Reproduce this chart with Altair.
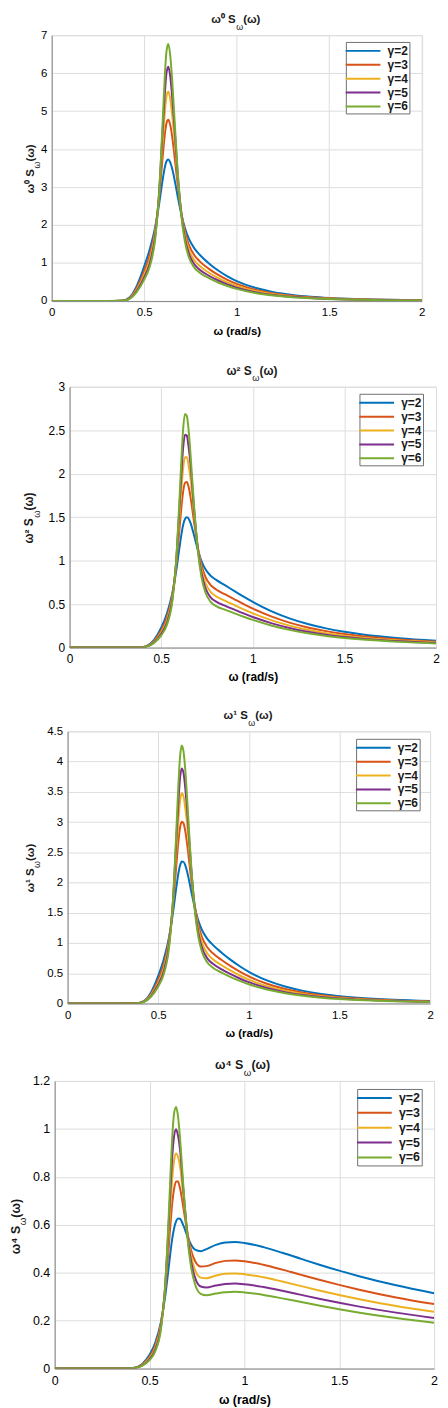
import altair as alt
import pandas as pd

# ---------------- data ----------------
OMEGA = [0.00, 0.30, 0.38, 0.42, 0.46, 0.50, 0.53, 0.56, 0.58, 0.60, 0.61, 0.62,
         0.63, 0.64, 0.65, 0.66, 0.68, 0.70, 0.72, 0.74, 0.77, 0.80, 0.85, 0.90,
         0.95, 1.00, 1.10, 1.20, 1.30, 1.40, 1.50, 1.60, 1.80, 2.00]

GAMMAS = ["γ=2", "γ=3", "γ=4", "γ=5", "γ=6"]
COLORS = ["#0072BD", "#D95319", "#EDB120", "#7E2F8E", "#77AC30"]
X_TICKS = [0, 0.5, 1, 1.5, 2]

# panel 1 : omega^0 S
M0_G2 = [0, 0, 0.0070, 0.0931, 0.3985, 0.9112, 1.3643, 1.9621, 2.5337, 3.1985, 3.4848, 3.6729, 3.7236, 3.6588, 3.5077, 3.2928, 2.7789, 2.2951, 1.9197, 1.6534, 1.3925, 1.2158, 0.9882, 0.8011, 0.6477, 0.5239, 0.3460, 0.2329, 0.1601, 0.1125, 0.0807, 0.0589, 0.0331, 0.0197]
M0_G3 = [0, 0, 0.0060, 0.0796, 0.3406, 0.7833, 1.2056, 1.8934, 2.7033, 3.8006, 4.3194, 4.6749, 4.7730, 4.6506, 4.3695, 3.9799, 3.1021, 2.3521, 1.8297, 1.4971, 1.2112, 1.0433, 0.8447, 0.6847, 0.5536, 0.4478, 0.2957, 0.1991, 0.1369, 0.0962, 0.0689, 0.0504, 0.0283, 0.0168]
M0_G4 = [0, 0, 0.0053, 0.0700, 0.2995, 0.6916, 1.0856, 1.8148, 2.7824, 4.2228, 4.8760, 5.3770, 5.5180, 5.3440, 4.9500, 4.4757, 3.2973, 2.3531, 1.7383, 1.3716, 1.0786, 0.9202, 0.7430, 0.6021, 0.4868, 0.3938, 0.2601, 0.1751, 0.1204, 0.0846, 0.0606, 0.0443, 0.0249, 0.0148]
M0_G5 = [0, 0, 0.0047, 0.0625, 0.2677, 0.6200, 0.9881, 1.7337, 2.8090, 4.5245, 5.3520, 5.9890, 6.1690, 5.9480, 5.4480, 4.8404, 3.4130, 2.3236, 1.6494, 1.2652, 0.9732, 0.8241, 0.6640, 0.5381, 0.4350, 0.3519, 0.2324, 0.1564, 0.1076, 0.0756, 0.0542, 0.0396, 0.0222, 0.0132]
M0_G6 = [0, 0, 0.0043, 0.0564, 0.2416, 0.5612, 0.9054, 1.6528, 2.8017, 4.7369, 5.7858, 6.5522, 6.7702, 6.5029, 5.9027, 5.1068, 3.4740, 2.2760, 1.5637, 1.1721, 0.8855, 0.7453, 0.5995, 0.4857, 0.3927, 0.3177, 0.2098, 0.1412, 0.0971, 0.0682, 0.0489, 0.0357, 0.0201, 0.0119]

# panel 2 : omega^2 S
M2_G2 = [0, 0, 0.0010, 0.0164, 0.0843, 0.2278, 0.3832, 0.6153, 0.8523, 1.1515, 1.2967, 1.4119, 1.4779, 1.4986, 1.4820, 1.4343, 1.2850, 1.1246, 0.9952, 0.9054, 0.8256, 0.7781, 0.7140, 0.6489, 0.5845, 0.5239, 0.4187, 0.3354, 0.2706, 0.2205, 0.1816, 0.1508, 0.1072, 0.0786]
M2_G3 = [0, 0, 0.0009, 0.0140, 0.0721, 0.1958, 0.3387, 0.5938, 0.9094, 1.3682, 1.6072, 1.7970, 1.8944, 1.9049, 1.8461, 1.7336, 1.4344, 1.1525, 0.9485, 0.8198, 0.7181, 0.6677, 0.6103, 0.5546, 0.4996, 0.4478, 0.3578, 0.2867, 0.2314, 0.1886, 0.1550, 0.1290, 0.0917, 0.0672]
M2_G4 = [0, 0, 0.0008, 0.0123, 0.0634, 0.1729, 0.3049, 0.5691, 0.9360, 1.5202, 1.8143, 2.0671, 2.1900, 2.1890, 2.0913, 1.9496, 1.5247, 1.1530, 0.9011, 0.7511, 0.6395, 0.5889, 0.5368, 0.4877, 0.4393, 0.3938, 0.3147, 0.2521, 0.2035, 0.1658, 0.1364, 0.1134, 0.0807, 0.0592]
M2_G5 = [0, 0, 0.0007, 0.0110, 0.0566, 0.1550, 0.2776, 0.5437, 0.9449, 1.6288, 1.9917, 2.3022, 2.4485, 2.4362, 2.3020, 2.1085, 1.5782, 1.1386, 0.8551, 0.6928, 0.5770, 0.5274, 0.4797, 0.4359, 0.3926, 0.3519, 0.2812, 0.2252, 0.1818, 0.1482, 0.1220, 0.1014, 0.0719, 0.0528]
M2_G6 = [0, 0, 0.0006, 0.0099, 0.0511, 0.1403, 0.2543, 0.5183, 0.9425, 1.7053, 2.1529, 2.5187, 2.6871, 2.6636, 2.4939, 2.2245, 1.6064, 1.1152, 0.8106, 0.6418, 0.5250, 0.4770, 0.4331, 0.3934, 0.3544, 0.3177, 0.2539, 0.2033, 0.1641, 0.1337, 0.1100, 0.0914, 0.0651, 0.0476]

# panel 3 : omega^1 S
M1_G2 = [0, 0, 0.0027, 0.0391, 0.1833, 0.4556, 0.7231, 1.0988, 1.4695, 1.9191, 2.1257, 2.2772, 2.3459, 2.3416, 2.2800, 2.1732, 1.8897, 1.6066, 1.3822, 1.2235, 1.0722, 0.9726, 0.8400, 0.7210, 0.6153, 0.5239, 0.3806, 0.2795, 0.2081, 0.1575, 0.1211, 0.0942, 0.0596, 0.0393]
M1_G3 = [0, 0, 0.0023, 0.0334, 0.1567, 0.3917, 0.6390, 1.0603, 1.5679, 2.2804, 2.6348, 2.8984, 3.0070, 2.9764, 2.8402, 2.6267, 2.1094, 1.6465, 1.3174, 1.1079, 0.9326, 0.8346, 0.7180, 0.6162, 0.5259, 0.4478, 0.3253, 0.2389, 0.1780, 0.1347, 0.1034, 0.0806, 0.0509, 0.0336]
M1_G4 = [0, 0, 0.0020, 0.0294, 0.1378, 0.3458, 0.5754, 1.0163, 1.6138, 2.5337, 2.9744, 3.3341, 3.4761, 3.4203, 3.2174, 2.9540, 2.2422, 1.6472, 1.2516, 1.0150, 0.8305, 0.7362, 0.6316, 0.5419, 0.4625, 0.3938, 0.2861, 0.2101, 0.1565, 0.1184, 0.0909, 0.0709, 0.0448, 0.0296]
M1_G5 = [0, 0, 0.0018, 0.0263, 0.1231, 0.3100, 0.5237, 0.9709, 1.6292, 2.7147, 3.2650, 3.7133, 3.8865, 3.8067, 3.5416, 3.1947, 2.3208, 1.6265, 1.1876, 0.9362, 0.7494, 0.6593, 0.5644, 0.4843, 0.4133, 0.3519, 0.2556, 0.1877, 0.1399, 0.1058, 0.0813, 0.0634, 0.0400, 0.0264]
M1_G6 = [0, 0, 0.0016, 0.0237, 0.1111, 0.2806, 0.4799, 0.9256, 1.6250, 2.8421, 3.5293, 4.0624, 4.2652, 4.1619, 3.8368, 3.3705, 2.3623, 1.5932, 1.1259, 0.8674, 0.6818, 0.5962, 0.5096, 0.4371, 0.3731, 0.3177, 0.2308, 0.1694, 0.1262, 0.0955, 0.0734, 0.0571, 0.0362, 0.0238]

# panel 4 : omega^4 S
M4_G2 = [0, 0, 0.0001, 0.0029, 0.0178, 0.0570, 0.1077, 0.1930, 0.2867, 0.4145, 0.4825, 0.5427, 0.5866, 0.6138, 0.6261, 0.6248, 0.5942, 0.5511, 0.5159, 0.4958, 0.4895, 0.4980, 0.5158, 0.5256, 0.5276, 0.5239, 0.5066, 0.4829, 0.4574, 0.4322, 0.4084, 0.3862, 0.3472, 0.3144]
M4_G3 = [0, 0, 0.0001, 0.0025, 0.0153, 0.0490, 0.0951, 0.1862, 0.3059, 0.4926, 0.5981, 0.6908, 0.7519, 0.7802, 0.7800, 0.7552, 0.6633, 0.5647, 0.4917, 0.4489, 0.4258, 0.4273, 0.4409, 0.4492, 0.4509, 0.4478, 0.4330, 0.4128, 0.3909, 0.3694, 0.3490, 0.3301, 0.2967, 0.2688]
M4_G4 = [0, 0, 0.0001, 0.0022, 0.0134, 0.0432, 0.0857, 0.1785, 0.3149, 0.5473, 0.6751, 0.7946, 0.8692, 0.8967, 0.8836, 0.8492, 0.7050, 0.5650, 0.4671, 0.4113, 0.3792, 0.3769, 0.3879, 0.3950, 0.3965, 0.3938, 0.3808, 0.3630, 0.3438, 0.3249, 0.3070, 0.2903, 0.2609, 0.2364]
M4_G5 = [0, 0, 0.0001, 0.0019, 0.0120, 0.0388, 0.0780, 0.1705, 0.3179, 0.5864, 0.7410, 0.8849, 0.9718, 0.9979, 0.9726, 0.9185, 0.7297, 0.5579, 0.4433, 0.3794, 0.3421, 0.3376, 0.3466, 0.3530, 0.3543, 0.3519, 0.3403, 0.3244, 0.3072, 0.2903, 0.2743, 0.2594, 0.2332, 0.2112]
M4_G6 = [0, 0, 0.0001, 0.0018, 0.0108, 0.0351, 0.0714, 0.1625, 0.3171, 0.6139, 0.8011, 0.9682, 1.0665, 1.0910, 1.0537, 0.9690, 0.7428, 0.5465, 0.4202, 0.3515, 0.3113, 0.3053, 0.3129, 0.3187, 0.3199, 0.3177, 0.3072, 0.2928, 0.2773, 0.2621, 0.2476, 0.2342, 0.2105, 0.1907]

# titles: main part, subscript, tail  ->  "ω^n S_ω(ω)"
P1_TITLE = ["ω⁰ S", "ω", "(ω)"]
P2_TITLE = ["ω² S", "ω", "(ω)"]
P3_TITLE = ["ω¹ S", "ω", "(ω)"]
P4_TITLE = ["ω⁴ S", "ω", "(ω)"]
X_TITLE = "ω (rad/s)"

P1_YTICKS = [0, 1, 2, 3, 4, 5, 6, 7]
P2_YTICKS = [0, 0.5, 1, 1.5, 2, 2.5, 3]
P3_YTICKS = [0, 0.5, 1, 1.5, 2, 2.5, 3, 3.5, 4, 4.5]
P4_YTICKS = [0, 0.2, 0.4, 0.6, 0.8, 1, 1.2]

FONT = "Liberation Sans"
TEXT = "#1a1a1a"
LEGEND_LINE = "M-2.5,0H2.5"


def frame(series):
    rows = []
    for g, vals in zip(GAMMAS, series):
        for w, v in zip(OMEGA, vals):
            rows.append({"omega": w, "value": v, "gamma": g})
    return pd.DataFrame(rows)


def label(txt, fs, x, y, align, weight="bold", angle=0):
    return alt.Chart(pd.DataFrame({"t": [txt]})).mark_text(
        font=FONT, fontSize=fs, fontWeight=weight, color=TEXT,
        align=align, baseline="alphabetic", angle=angle
    ).encode(text="t:N", x=alt.value(x), y=alt.value(y))


def panel(df, parts, yticks, width, height, fs, ytx, lx, ly, lfs):
    lines = alt.Chart(df).mark_line(strokeWidth=2, interpolate="monotone", clip=True).encode(
        x=alt.X("omega:Q",
                scale=alt.Scale(domain=[0, 2], nice=False, zero=False),
                axis=alt.Axis(values=X_TICKS, format="~g", title=X_TITLE,
                              labelFontSize=fs, titleFontSize=fs,
                              labelPadding=6, titlePadding=7, ticks=False, tickSize=0,
                              labelFlush=False, labelOverlap=False)),
        y=alt.Y("value:Q",
                scale=alt.Scale(domain=[yticks[0], yticks[-1]], nice=False),
                axis=alt.Axis(values=yticks, format="~g", title=None,
                              labelFontSize=fs,
                              labelPadding=5, ticks=False, tickSize=0,
                              labelFlush=False, labelOverlap=False)),
        color=alt.Color("gamma:N",
                        scale=alt.Scale(domain=GAMMAS, range=COLORS),
                        legend=alt.Legend(title=None, orient="none", legendX=lx, legendY=ly,
                                          symbolType=LEGEND_LINE, symbolSize=196,
                                          symbolOffset=8.33, symbolStrokeWidth=2,
                                          labelFont=FONT, labelFontSize=lfs,
                                          labelFontWeight="bold", labelColor=TEXT,
                                          labelOffset=16.67,
                                          padding=1, rowPadding=0,
                                          strokeColor="#707070", fillColor="white",
                                          cornerRadius=0)),
    )
    k = fs / 11.5
    sub = fs * 0.78
    cx = width / 2
    cy = height / 2
    top = [
        label(parts[0], fs, cx - 1 * k, -12, "right"),
        label(parts[1], sub, cx - 0.5 * k, -12 + 0.55 * fs, "left", "normal"),
        label(parts[2], fs, cx + 6.5 * k, -12, "left"),
    ]
    side = [
        label(parts[0], fs, ytx, cy + 1 * k, "right", angle=270),
        label(parts[1], sub, ytx + 0.55 * fs, cy + 0.5 * k, "left", "normal", angle=270),
        label(parts[2], fs, ytx, cy - 6.5 * k, "left", angle=270),
    ]
    return alt.layer(lines, *top, *side).properties(width=width, height=height)


def spacer(w):
    return alt.Chart(pd.DataFrame({"s": [0]})).mark_text(text="", opacity=0).encode(
        x=alt.value(0), y=alt.value(0)
    ).properties(width=w, height=1,
                 view=alt.ViewBackground(stroke="transparent", strokeWidth=0))


def row(sp, p):
    return alt.hconcat(spacer(sp), p, spacing=0).resolve_scale(
        color="independent").resolve_legend(color="independent")


p1 = panel(frame([M0_G2, M0_G3, M0_G4, M0_G5, M0_G6]), P1_TITLE, P1_YTICKS,
           372.6, 267.6, 11.5, -17.7, 296.2, 6.8, 12)
p2 = panel(frame([M2_G2, M2_G3, M2_G4, M2_G5, M2_G6]), P2_TITLE, P2_YTICKS,
           369, 262.6, 12, -36.7, 291.9, 7.1, 12)
p3 = panel(frame([M1_G2, M1_G3, M1_G4, M1_G5, M1_G6]), P3_TITLE, P3_YTICKS,
           365, 274, 11.5, -34, 290.5, 7.5, 12)
p4 = panel(frame([M4_G2, M4_G3, M4_G4, M4_G5, M4_G6]), P4_TITLE, P4_YTICKS,
           382, 289.6, 12.5, -35.3, 304.6, 8.1, 12.5)

inner = alt.vconcat(row(16, p1), row(13.7, p2), row(15.1, p3), spacing=26).resolve_scale(
    color="independent").resolve_legend(color="independent")

chart = alt.vconcat(inner, row(1, p4), spacing=18).resolve_scale(
    color="independent").resolve_legend(color="independent").properties(
    padding={"left": 0, "top": 0.5, "right": 0, "bottom": 0}
).configure_view(stroke="transparent").configure_axis(
    labelFont=FONT, labelFontWeight="bold", labelColor=TEXT,
    titleFont=FONT, titleFontWeight="bold", titleColor=TEXT,
    domainColor="#808080", domainWidth=1, gridColor="#e4e4e4", gridWidth=1,
).configure(background="white")

chart.save("out.html", embed_options={"renderer": "svg", "actions": False})
